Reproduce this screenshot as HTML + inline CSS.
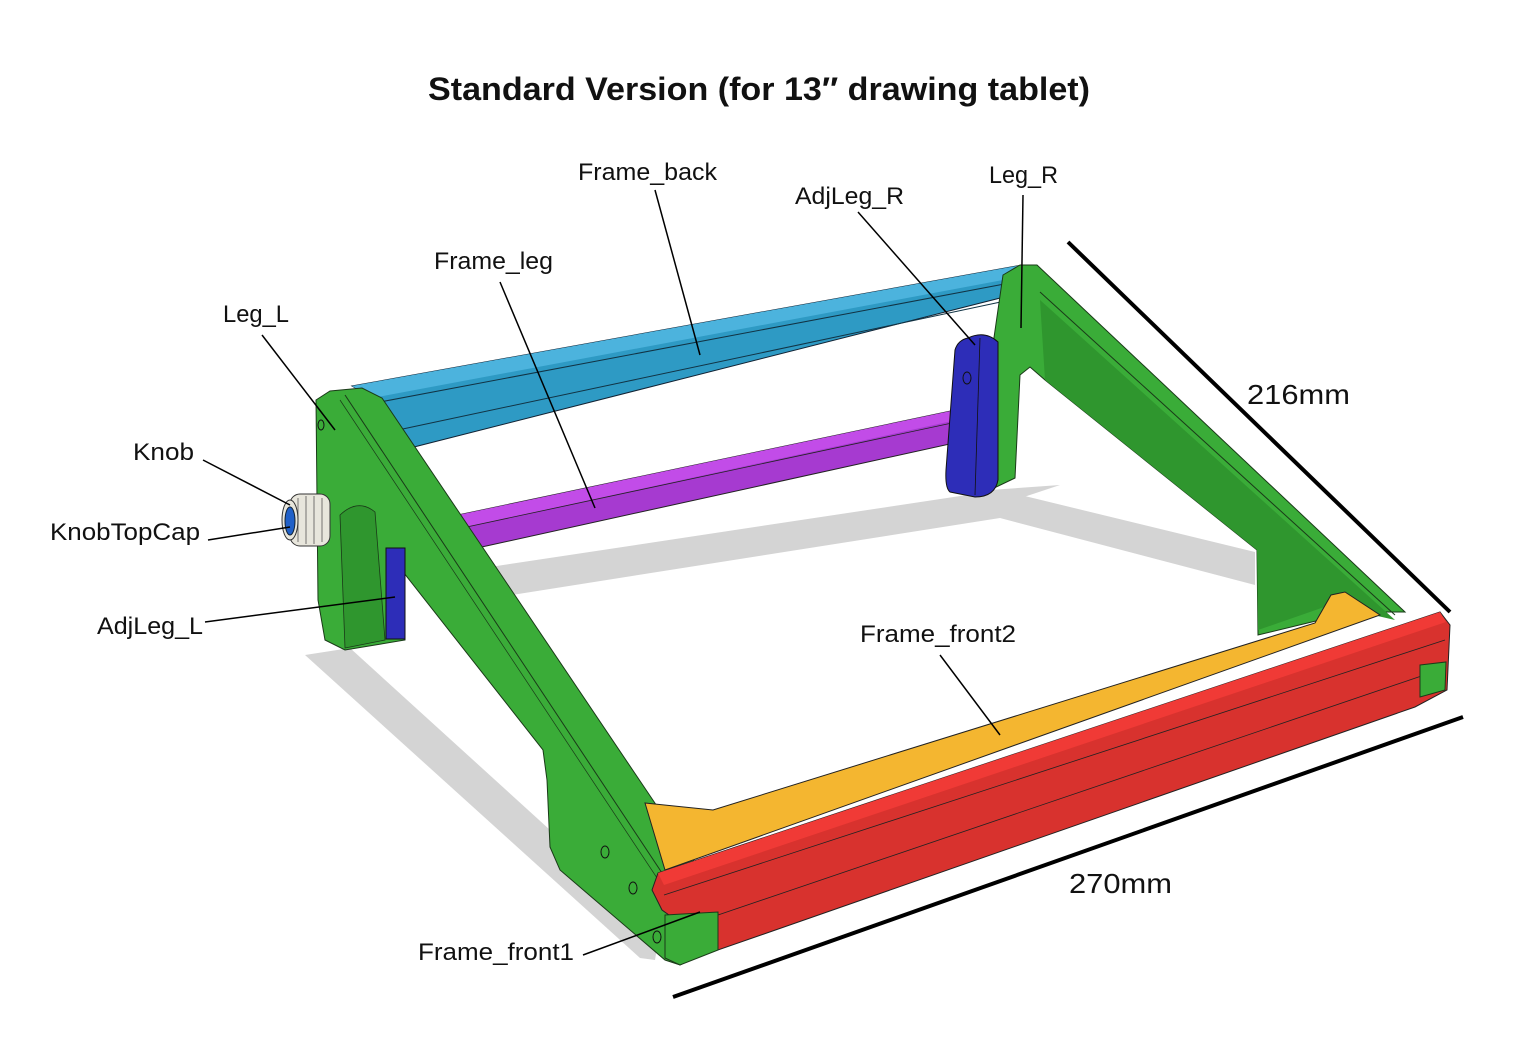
<!DOCTYPE html>
<html><head><meta charset="utf-8"><style>
html,body{margin:0;padding:0;background:#fff;}
svg{display:block}
text{font-family:"Liberation Sans",sans-serif;fill:#111}
</style></head><body>
<svg width="1518" height="1040" viewBox="0 0 1518 1040" xmlns="http://www.w3.org/2000/svg">
<rect width="1518" height="1040" fill="#fff"/>
<text x="428" y="100" font-size="32" font-weight="bold" textLength="662" lengthAdjust="spacingAndGlyphs">Standard Version (for 13″ drawing tablet)</text>

<!-- shadows -->
<g fill="#d4d4d4">
<polygon points="470,570 1000,490 1255,552 1255,585 1000,518 480,600"/>
<polygon points="305,655 350,648 660,930 655,960 640,958"/>
<polygon points="990,490 1060,485 1000,505"/>
</g>

<!-- blue back bar -->
<polygon points="352,386 1022,265 1030,275 1012,295 410,448 385,405" fill="#2e9ac4" stroke="#123" stroke-width="1"/>
<polygon points="352,386 1022,265 1030,275 372,398" fill="#4cb3dd"/>
<line x1="380" y1="402" x2="1015" y2="282" stroke="#134" stroke-width="1"/>
<line x1="398" y1="430" x2="1010" y2="300" stroke="#134" stroke-width="1"/>

<!-- right leg -->
<polygon points="1003,275 1020,265 1037,265 1405,612 1340,612 1320,620 1258,635 1257,550 1045,380 1030,367 1020,375 1015,478 990,490 985,400" fill="#3aac38" stroke="#1a3a18" stroke-width="1"/>
<polygon points="1040,300 1395,620 1330,605 1258,630 1257,550 1045,380" fill="#2f962e"/>
<line x1="1040" y1="292" x2="1395" y2="615" stroke="#1a3a18" stroke-width="1"/>

<!-- purple bar -->
<polygon points="458,515 965,408 968,440 468,550" fill="#a63ad0" stroke="#222" stroke-width="1"/>
<polygon points="458,515 965,408 966,418 462,528" fill="#c24ce8"/>
<line x1="462" y1="528" x2="966" y2="420" stroke="#222" stroke-width="0.8"/>

<!-- AdjLeg_R -->
<path d="M968,338 Q985,330 998,342 L998,480 Q995,497 975,497 L950,492 Q945,488 946,470 L955,350 Q958,340 968,338 Z" fill="#2d2db8" stroke="#111" stroke-width="1"/>
<line x1="980" y1="338" x2="975" y2="495" stroke="#111" stroke-width="0.8"/>
<ellipse cx="967" cy="378" rx="4" ry="6" fill="none" stroke="#111"/>

<!-- left leg -->
<polygon points="316,400 330,391 362,388 382,398 700,870 720,900 720,945 680,965 665,960 560,870 550,847 547,780 543,750 400,568 405,640 345,650 325,640 318,600" fill="#3aac38" stroke="#1a3a18" stroke-width="1"/>
<path d="M340,515 Q358,498 375,512 L385,640 L345,648 Z" fill="#2f962e" stroke="#1a3a18" stroke-width="0.8"/>
<rect x="386" y="548" width="19" height="91" fill="#2d2db8" stroke="#111" stroke-width="1"/>
<line x1="345" y1="395" x2="670" y2="885" stroke="#1a3a18" stroke-width="1"/>
<line x1="340" y1="400" x2="665" y2="890" stroke="#1a3a18" stroke-width="0.7"/>
<ellipse cx="321" cy="425" rx="3" ry="5" fill="none" stroke="#111"/>
<ellipse cx="605" cy="852" rx="4" ry="6" fill="none" stroke="#111"/>
<ellipse cx="633" cy="888" rx="4" ry="6" fill="none" stroke="#111"/>
<ellipse cx="657" cy="937" rx="4" ry="6" fill="none" stroke="#111"/>

<!-- knob -->
<rect x="290" y="494" width="40" height="52" rx="10" fill="#e8e6dc" stroke="#333" stroke-width="1"/>
<g stroke="#555" stroke-width="0.8">
<line x1="298" y1="498" x2="298" y2="542"/><line x1="306" y1="496" x2="306" y2="544"/><line x1="314" y1="496" x2="314" y2="544"/><line x1="322" y1="498" x2="322" y2="542"/>
</g>
<ellipse cx="290" cy="520" rx="8" ry="20" fill="#e8e6dc" stroke="#333"/>
<ellipse cx="290" cy="521" rx="5" ry="14" fill="#2060c8" stroke="#123"/>

<!-- yellow front2 -->
<polygon points="645,803 713,810 1315,623 1331,595 1345,592 1380,615 665,870" fill="#f4b630" stroke="#222" stroke-width="1"/>

<!-- red front1 -->
<polygon points="658,873 1440,612 1450,625 1447,690 1415,707 718,950 662,910 652,890" fill="#d8322e" stroke="#222" stroke-width="1"/>
<polygon points="658,873 1440,612 1446,622 664,885" fill="#f03a36"/>
<line x1="664" y1="895" x2="1445" y2="640" stroke="#222" stroke-width="0.8"/>
<line x1="668" y1="932" x2="1445" y2="668" stroke="#222" stroke-width="0.8"/>
<polygon points="665,915 718,912 718,950 680,965 665,958" fill="#3aac38" stroke="#1a3a18"/>
<polygon points="1420,665 1446,662 1445,690 1420,697" fill="#3aac38" stroke="#1a3a18"/>

<!-- dimension lines -->
<line x1="1068" y1="242" x2="1450" y2="612" stroke="#000" stroke-width="4"/>
<line x1="673" y1="997" x2="1463" y2="717" stroke="#000" stroke-width="4"/>
<text x="1247" y="404" font-size="28" textLength="103" lengthAdjust="spacingAndGlyphs">216mm</text>
<text x="1069" y="893" font-size="28" textLength="103" lengthAdjust="spacingAndGlyphs">270mm</text>

<!-- leaders -->
<g stroke="#000" stroke-width="1.5">
<line x1="655" y1="190" x2="700" y2="355"/>
<line x1="858" y1="212" x2="975" y2="345"/>
<line x1="1023" y1="195" x2="1021" y2="328"/>
<line x1="500" y1="282" x2="595" y2="508"/>
<line x1="262" y1="335" x2="335" y2="430"/>
<line x1="203" y1="460" x2="290" y2="505"/>
<line x1="208" y1="540" x2="290" y2="527"/>
<line x1="205" y1="622" x2="395" y2="597"/>
<line x1="940" y1="655" x2="1000" y2="735"/>
<line x1="583" y1="955" x2="700" y2="912"/>
</g>
<g font-size="24">
<text x="578" y="180" textLength="139" lengthAdjust="spacingAndGlyphs">Frame_back</text>
<text x="795" y="204" textLength="109" lengthAdjust="spacingAndGlyphs">AdjLeg_R</text>
<text x="989" y="183" textLength="69" lengthAdjust="spacingAndGlyphs">Leg_R</text>
<text x="434" y="269" textLength="119" lengthAdjust="spacingAndGlyphs">Frame_leg</text>
<text x="223" y="322" textLength="66" lengthAdjust="spacingAndGlyphs">Leg_L</text>
<text x="133" y="460" textLength="61" lengthAdjust="spacingAndGlyphs">Knob</text>
<text x="50" y="540" textLength="150" lengthAdjust="spacingAndGlyphs">KnobTopCap</text>
<text x="97" y="634" textLength="106" lengthAdjust="spacingAndGlyphs">AdjLeg_L</text>
<text x="860" y="642" textLength="156" lengthAdjust="spacingAndGlyphs">Frame_front2</text>
<text x="418" y="960" textLength="156" lengthAdjust="spacingAndGlyphs">Frame_front1</text>
</g>
</svg>
</body></html>
